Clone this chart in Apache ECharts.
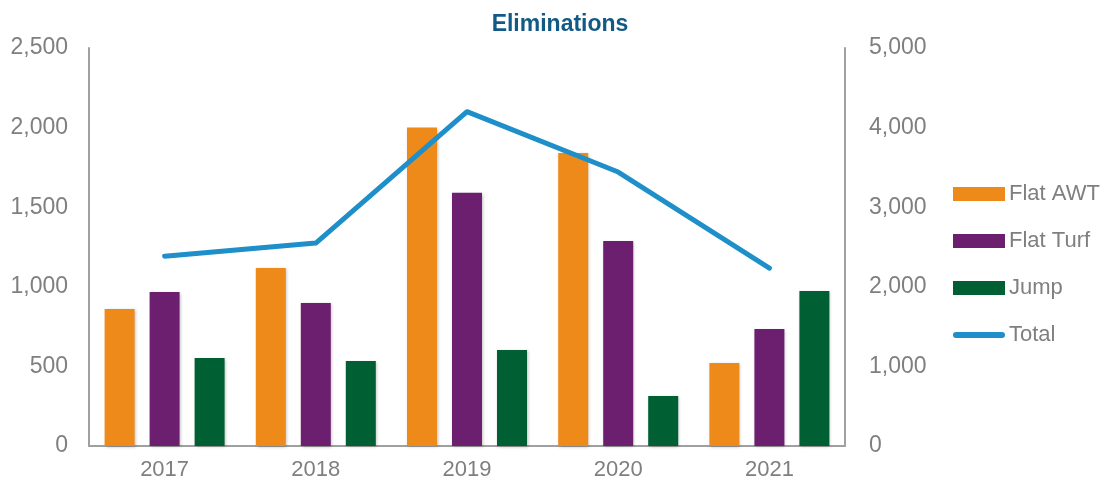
<!DOCTYPE html>
<html>
<head>
<meta charset="utf-8">
<script src="https://cdn.jsdelivr.net/npm/echarts@6/dist/echarts.min.js"></script>
<style>
  html, body { margin: 0; padding: 0; background: #fff; }
  #chart { width: 1104px; height: 489px; }
</style>
</head>
<body>
<div id="chart"></div>
<script>
  const years = ['2017', '2018', '2019', '2020', '2021']
  const flatAwt = [860, 1118, 2000, 1840, 521]
  const flatTurf = [968, 898, 1590, 1288, 735]
  const jump = [553, 534, 603, 314, 974]
  const total = [2385, 2550, 4200, 3442, 2235]

  const font = '"Liberation Sans Narrow", "Liberation Sans", Arial, sans-serif'
  const grey = '#7f7f7f'

  const chart = echarts.init(document.getElementById('chart'))

  const barSeries = (name, data, color) => ({
    name,
    type: 'bar',
    data,
    barWidth: 30,
    barGap: '50%',
    itemStyle: {
      color,
      shadowColor: 'rgba(0,0,0,0.25)',
      shadowBlur: 3,
      shadowOffsetX: 1,
      shadowOffsetY: 1
    }
  })

  const tickLabel = {
    fontFamily: font,
    fontSize: 23,
    color: grey,
    margin: 21,
    formatter: v => v.toLocaleString('en-US')
  }

  chart.setOption({
    animation: false,
    title: {
      text: 'Eliminations',
      left: 555,
      top: 8,
      textAlign: 'center',
      textStyle: { fontFamily: font, fontSize: 23, fontWeight: 'bold', color: '#125a86' }
    },
    legend: {
      orient: 'vertical',
      left: 953,
      top: 183,
      padding: 0,
      itemWidth: 52,
      itemHeight: 14,
      itemGap: 25,
      textStyle: { fontFamily: font, fontSize: 22, color: grey, padding: [0, 0, 0, -1] },
      data: [
        { name: 'Flat AWT', icon: 'rect' },
        { name: 'Flat Turf', icon: 'rect' },
        { name: 'Jump', icon: 'rect' },
        { name: 'Total', icon: 'path://M3,0 H49 A3,3 0 0 1 49,6 H3 A3,3 0 0 1 3,0 Z' }
      ]
    },
    grid: { left: 89, right: 259, top: 48, bottom: 43 },
    xAxis: {
      type: 'category',
      data: years,
      axisLine: { lineStyle: { color: '#a0a0a0', width: 2 } },
      axisTick: { show: false },
      axisLabel: { fontFamily: font, fontSize: 22, color: grey, margin: 13 }
    },
    yAxis: [
      {
        type: 'value',
        min: 0,
        max: 2500,
        interval: 500,
        splitLine: { show: false },
        axisLine: { show: true, lineStyle: { color: '#a0a0a0', width: 2 } },
        axisTick: { show: false },
        axisLabel: tickLabel
      },
      {
        type: 'value',
        min: 0,
        max: 5000,
        interval: 1000,
        splitLine: { show: false },
        axisLine: { show: true, lineStyle: { color: '#a0a0a0', width: 2 } },
        axisTick: { show: false },
        axisLabel: { ...tickLabel, margin: 24 }
      }
    ],
    series: [
      barSeries('Flat AWT', flatAwt, '#ee8a1a'),
      barSeries('Flat Turf', flatTurf, '#6d1f6f'),
      barSeries('Jump', jump, '#005f33'),
      {
        name: 'Total',
        type: 'line',
        yAxisIndex: 1,
        data: total,
        symbol: 'none',
        lineStyle: { color: '#1e8fc8', width: 5, cap: 'round', join: 'round' },
        itemStyle: { color: '#1e8fc8' }
      }
    ]
  })
</script>
</body>
</html>
